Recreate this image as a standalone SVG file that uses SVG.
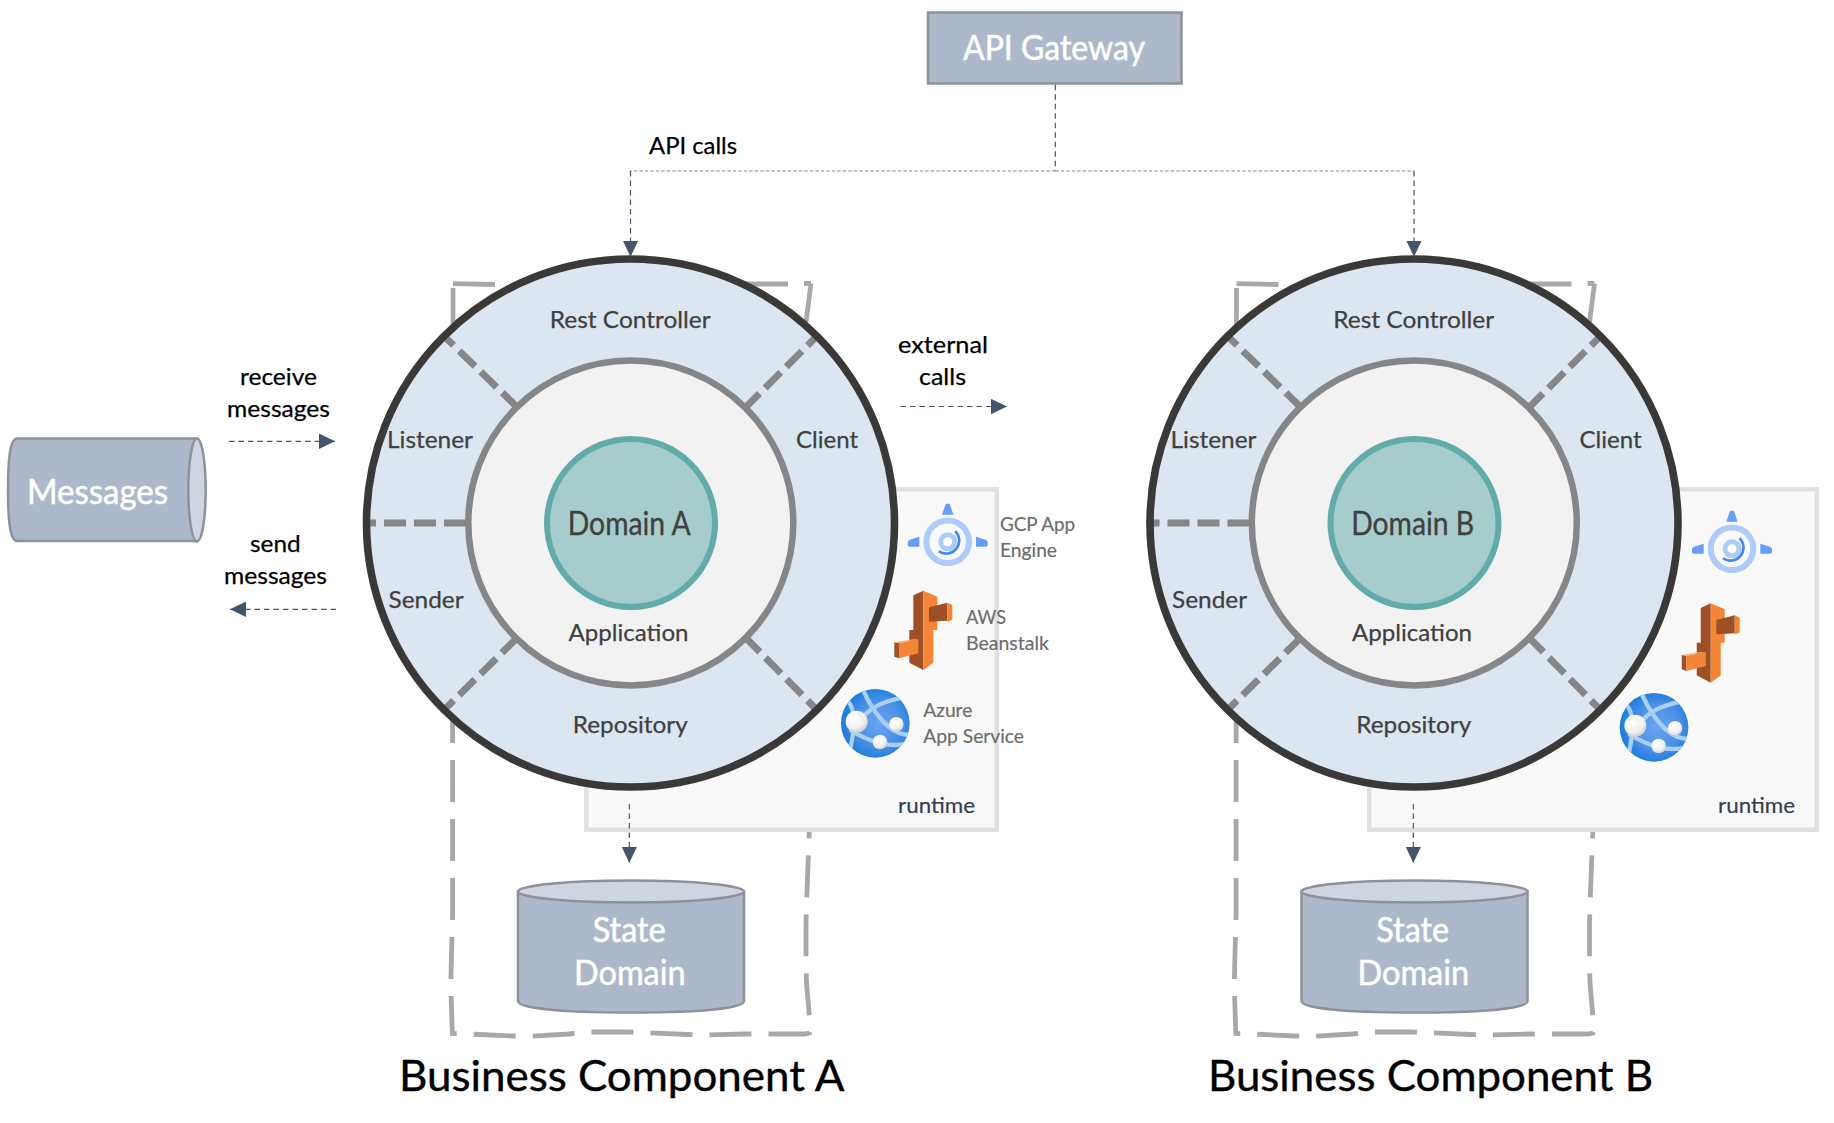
<svg xmlns="http://www.w3.org/2000/svg" width="1834" height="1123" viewBox="0 0 1834 1123">
<style>
text{font-family:"Lato","Liberation Sans",sans-serif}
.lbl{font-size:24px;fill:#404040;stroke:#404040;stroke-width:.25}
.dom{font-size:32px;fill:#404040;stroke:#404040;stroke-width:.3}
.blk{font-size:24px;fill:#000;stroke:#000;stroke-width:.25}
.wht{fill:#fff;font-size:34px;stroke:#fff;stroke-width:.5}
.ttl{font-size:43px;fill:#000;stroke:#000;stroke-width:.4}
.rt{font-size:22px;fill:#333f50;stroke:#333f50;stroke-width:.2}
.ico{font-size:19px;fill:#6b6b6b;stroke:#6b6b6b;stroke-width:.15}
.box{fill:#adb9ca;stroke:#8f9199;stroke-width:2.5}
.lid{fill:#cdd5e0;stroke:#8f9199;stroke-width:2.5}
.runtime{fill:#f9f9f9;stroke:#e0e0e0;stroke-width:4.5}
.bound{fill:none;stroke:#a8a8a8;stroke-width:4.8;stroke-dasharray:42 17}
.sep{fill:none;stroke:#868688;stroke-width:7;stroke-dasharray:22 8}
.c{fill:none;stroke:#44546a;stroke-width:1.2;stroke-dasharray:5.5 4}
.d{fill:none;stroke:#7f8a9c;stroke-width:1.2;stroke-dasharray:3.5 2}
</style>
<defs>
<marker id="arrow" markerUnits="userSpaceOnUse" markerWidth="17" markerHeight="16" refX="16" refY="8" orient="auto"><path d="M0,0.3L16,8L0,15.7Z" fill="#44546a"/></marker>
<radialGradient id="azb" cx="0.55" cy="0.5" r="0.6"><stop offset="0" stop-color="#6aa5ef"/><stop offset="0.55" stop-color="#4a90e6"/><stop offset="1" stop-color="#0f78d4"/></radialGradient>
<radialGradient id="azw" cx="0.4" cy="0.35" r="0.75"><stop offset="0" stop-color="#fff"/><stop offset="0.6" stop-color="#f0f0f0"/><stop offset="1" stop-color="#c4c4c4"/></radialGradient>
<clipPath id="azc"><circle cx="136" cy="730" r="103"/></clipPath>
<path id="boundary" class="bound" d="M453,288L452.6,800L452.6,916L452,934L451,975L451,992L452.3,1033.5L468,1034L511,1036L527,1036.5L569,1034L586,1032L627,1032L644,1032.5L687,1034.5L703,1035L745,1034L761,1034L804,1034L809.5,1033L810,1023L806.5,983L806,965L806,923L806.5,906L808,865L808.7,848L809.5,825M811,283.5L806,322M804,283.5H811M788,284H745M495,284.5L451,283.5"/>
<g id="gcp-icon">
<circle r="21.3" fill="#f9f9f9" stroke="#aecbfa" stroke-width="6"/>
<circle r="7" fill="#fff" stroke="#aecbfa" stroke-width="5"/>
<path d="M7.5,-10.5A13,13,0,0,1,-9,9.5" fill="none" stroke="#4285f4" stroke-width="2.6"/>
<path d="M-2,-37.7Q0,-38.5,2,-37.7L5.7,-27L-5.7,-27Z" fill="#669df6"/>
<path d="M28.3,-5L38,-2Q40,-1,40,1L40,3Q40,5,38,5L28.3,5Z" fill="#669df6"/>
<path d="M-28.3,-5L-38,-2Q-40,-1,-40,1L-40,3Q-40,5,-38,5L-28.3,5Z" fill="#669df6"/>
</g>
<g id="aws-icon" transform="scale(0.3333)">
<path d="M280,332L250,346L250,450L238,450L238,548L280,570Z" fill="#9d5025"/>
<path d="M280,332L322,350L322,450L310,450L310,548L280,570Z" fill="#f58536"/>
<path d="M297,382L352,368L352,422L297,425Z" fill="#9d5025"/>
<path d="M352,368L367,375L367,420L352,425Z" fill="#f58536"/>
<path d="M193,487L207,490L207,535L193,530Z" fill="#9d5025"/>
<path d="M207,490L265,478L265,520L207,535Z" fill="#f58536"/>
<path d="M193,487L250,478L265,478L207,490Z" fill="#f8a873"/>
</g>
<g id="azure-icon" transform="scale(0.3333)">
<circle cx="136" cy="730" r="103" fill="url(#azb)"/>
<g clip-path="url(#azc)" fill="none" stroke="#a9cff5" stroke-width="13">
<path d="M98,628Q130,700,175,740Q205,765,240,765"/>
<path d="M55,665Q85,700,60,810"/>
<path d="M60,750Q100,775,150,790Q195,800,232,790"/>
<path d="M105,705Q140,665,235,650"/>
</g>
<circle cx="80" cy="725" r="33" fill="url(#azw)"/>
<circle cx="199" cy="733" r="22" fill="url(#azw)"/>
<circle cx="150" cy="786" r="22" fill="url(#azw)"/>
</g>
<g id="hexagon">
<circle cx="630.5" cy="523" r="264.5" fill="#dce6f1"/>
<path class="sep" stroke-dashoffset="10" d="M445,337L517,407"/>
<path class="sep" stroke-dashoffset="10" d="M816,337L746,407"/>
<path class="sep" stroke-dashoffset="10" d="M445,709L517,638"/>
<path class="sep" stroke-dashoffset="10" d="M816,709L746,638"/>
<path class="sep" d="M466,523H363"/>
<circle cx="630.5" cy="523" r="264" fill="none" stroke="#3b3838" stroke-width="7.6"/>
<circle cx="630.8" cy="523" r="162.5" fill="#f2f2f2" stroke="#868688" stroke-width="6.5"/>
<circle cx="631" cy="523" r="84" fill="#a6cccc" stroke="#62abab" stroke-width="6"/>
</g>
</defs>

<use id="boundary-a" href="#boundary"/>
<use id="boundary-b" href="#boundary" x="783.5"/>

<g id="runtime-a"><rect class="runtime" x="586.25" y="489.25" width="410.5" height="340.5"/></g>
<g id="runtime-b"><rect class="runtime" x="1369.25" y="489.25" width="447.5" height="340.5"/></g>

<g id="hexagon-a">
<use href="#hexagon"/>
<text class="lbl" x="549.7" y="328" textLength="161" lengthAdjust="spacingAndGlyphs">Rest Controller</text>
<text class="lbl" x="387" y="448" textLength="86" lengthAdjust="spacingAndGlyphs">Listener</text>
<text class="lbl" x="796" y="448" textLength="62" lengthAdjust="spacingAndGlyphs">Client</text>
<text class="lbl" x="388.6" y="608" textLength="75" lengthAdjust="spacingAndGlyphs">Sender</text>
<text class="lbl" x="568.5" y="641" textLength="120" lengthAdjust="spacingAndGlyphs">Application</text>
<text class="lbl" x="572.7" y="733" textLength="115" lengthAdjust="spacingAndGlyphs">Repository</text>
<text class="dom" x="567.7" y="534.5" textLength="123" lengthAdjust="spacingAndGlyphs">Domain A</text>
</g>
<g id="hexagon-b" transform="translate(783.5 0)">
<use href="#hexagon"/>
<text class="lbl" x="549.7" y="328" textLength="161" lengthAdjust="spacingAndGlyphs">Rest Controller</text>
<text class="lbl" x="387" y="448" textLength="86" lengthAdjust="spacingAndGlyphs">Listener</text>
<text class="lbl" x="796" y="448" textLength="62" lengthAdjust="spacingAndGlyphs">Client</text>
<text class="lbl" x="388.6" y="608" textLength="75" lengthAdjust="spacingAndGlyphs">Sender</text>
<text class="lbl" x="568.5" y="641" textLength="120" lengthAdjust="spacingAndGlyphs">Application</text>
<text class="lbl" x="572.7" y="733" textLength="115" lengthAdjust="spacingAndGlyphs">Repository</text>
<text class="dom" x="567.7" y="534.5" textLength="123" lengthAdjust="spacingAndGlyphs">Domain B</text>
</g>

<g id="runtime-icons-a">
<use href="#gcp-icon" x="947.7" y="541.7"/>
<use href="#aws-icon" x="830" y="480"/>
<use href="#azure-icon" x="830" y="480"/>
<text class="ico" x="1000" y="531" textLength="75" lengthAdjust="spacingAndGlyphs">GCP App</text>
<text class="ico" x="1000" y="557.3" textLength="57" lengthAdjust="spacingAndGlyphs">Engine</text>
<text class="ico" x="966" y="624" textLength="40" lengthAdjust="spacingAndGlyphs">AWS</text>
<text class="ico" x="966" y="650" textLength="83" lengthAdjust="spacingAndGlyphs">Beanstalk</text>
<text class="ico" x="923.3" y="716.7" textLength="49" lengthAdjust="spacingAndGlyphs">Azure</text>
<text class="ico" x="923.3" y="743.3" textLength="100.7" lengthAdjust="spacingAndGlyphs">App Service</text>
<text class="rt" x="898" y="812.7" textLength="77" lengthAdjust="spacingAndGlyphs">runtime</text>
</g>
<g id="runtime-icons-b">
<use href="#gcp-icon" x="1732" y="548.7"/>
<use href="#aws-icon" x="1617.4" y="492.7"/>
<use href="#azure-icon" x="1608.7" y="484"/>
<text class="rt" x="1718" y="812.7" textLength="77" lengthAdjust="spacingAndGlyphs">runtime</text>
</g>

<g id="api-gateway">
<rect class="box" x="928" y="12.5" width="253.5" height="71"/>
<text class="wht" x="963" y="60.3" textLength="182" lengthAdjust="spacingAndGlyphs">API Gateway</text>
</g>

<g id="messages">
<path class="box" d="M197,438.5H17C10,438.5,8,460,8,490S10,541,17,541H197Z"/>
<ellipse class="lid" cx="197" cy="490" rx="8.7" ry="51.5"/>
<text class="wht" x="27" y="504" textLength="141" lengthAdjust="spacingAndGlyphs">Messages</text>
</g>

<g id="state-domain-a">
<path class="box" d="M518,891.5V1001C518,1008,560,1012.5,631,1012.5S744,1008,744,1001V891.5Z"/>
<ellipse class="lid" cx="631" cy="891.5" rx="113" ry="11"/>
<text class="wht" x="592.7" y="942" textLength="73" lengthAdjust="spacingAndGlyphs">State</text>
<text class="wht" x="574" y="985" textLength="111.7" lengthAdjust="spacingAndGlyphs">Domain</text>
</g>
<g id="state-domain-b" transform="translate(783.5 0)">
<path class="box" d="M518,891.5V1001C518,1008,560,1012.5,631,1012.5S744,1008,744,1001V891.5Z"/>
<ellipse class="lid" cx="631" cy="891.5" rx="113" ry="11"/>
<text class="wht" x="592.7" y="942" textLength="73" lengthAdjust="spacingAndGlyphs">State</text>
<text class="wht" x="574" y="985" textLength="111.7" lengthAdjust="spacingAndGlyphs">Domain</text>
</g>

<g id="connectors">
<path class="c" d="M1055.3,84.7V171"/>
<path class="d" d="M1055.3,171H630.5"/>
<path class="d" d="M1055.3,171H1414"/>
<path class="c" d="M630.5,171V256.7" marker-end="url(#arrow)"/>
<path class="c" d="M1414,171V256.7" marker-end="url(#arrow)"/>
<path class="c" d="M229,441.3H335" marker-end="url(#arrow)"/>
<path class="c" d="M336,609.3H230" marker-end="url(#arrow)"/>
<path class="c" d="M900.5,406.5H1007" marker-end="url(#arrow)"/>
<path class="c" d="M629.3,804V862.7" marker-end="url(#arrow)"/>
<path class="c" d="M1413.3,804V862.7" marker-end="url(#arrow)"/>
</g>

<g id="labels">
<text class="blk" x="649" y="154" textLength="88" lengthAdjust="spacingAndGlyphs">API calls</text>
<text class="blk" x="240" y="385.3" textLength="77" lengthAdjust="spacingAndGlyphs">receive</text>
<text class="blk" x="227" y="417" textLength="103" lengthAdjust="spacingAndGlyphs">messages</text>
<text class="blk" x="250" y="552" textLength="50.7" lengthAdjust="spacingAndGlyphs">send</text>
<text class="blk" x="224" y="583.5" textLength="103" lengthAdjust="spacingAndGlyphs">messages</text>
<text class="blk" x="898" y="353" textLength="90" lengthAdjust="spacingAndGlyphs">external</text>
<text class="blk" x="919" y="384.5" textLength="47" lengthAdjust="spacingAndGlyphs">calls</text>
<text class="ttl" x="399" y="1090.7" textLength="445.5" lengthAdjust="spacingAndGlyphs">Business Component A</text>
<text class="ttl" x="1208" y="1090.7" textLength="445" lengthAdjust="spacingAndGlyphs">Business Component B</text>
</g>
</svg>
